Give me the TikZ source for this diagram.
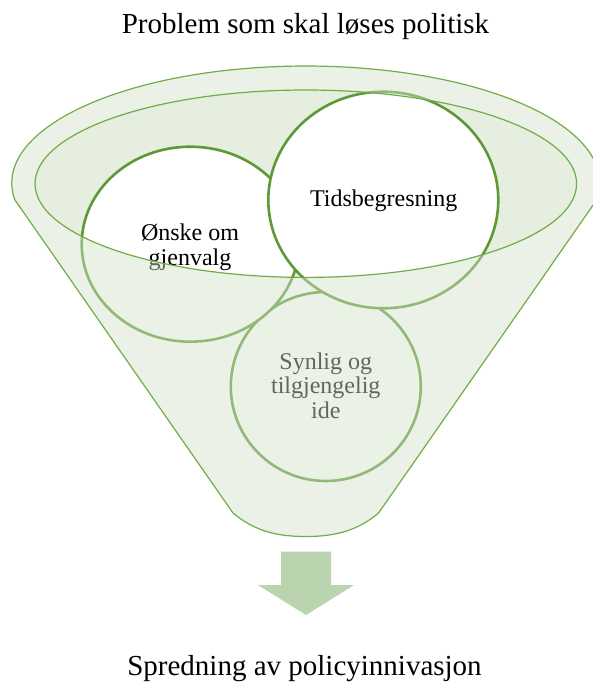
\documentclass[tikz,border=0pt]{standalone}
\usepackage{fontspec}
\setmainfont{Liberation Serif}
\usetikzlibrary{shapes.geometric}
\definecolor{ovl}{RGB}{211,225,200}
\definecolor{innerfill}{RGB}{229,238,223}
\definecolor{funline}{RGB}{112,173,71}
\definecolor{circ}{RGB}{94,152,56}
\definecolor{arrowc}{RGB}{185,212,175}
\def\funnelpath{(14.9,199.9) arc[start angle=188.3, end angle=-8.3, x radius=294pt, y radius=117pt] -- (378.6,513) .. controls (355,533) and (330,536.5) .. (305.8,536.5) .. controls (281.6,536.5) and (256.6,533) .. (233,513) -- cycle}
\begin{document}
\begin{tikzpicture}[x=1pt,y=-1pt,
  ell/.style={ellipse, draw=circ, fill=white, line width=2.6pt, inner sep=0pt},
  ctext/.style={align=center, font=\fontsize{24}{24.5}\selectfont, text=black, inner sep=0pt},
  ttext/.style={font=\fontsize{29}{32}\selectfont, inner sep=0pt, anchor=base},
  funnel/.style={draw=funline, line width=1.2pt}]
\useasboundingbox (0,0) rectangle (593,682);
% inner opening
\fill[innerfill] (305.8,183.7) ellipse [x radius=270.8pt, y radius=93.7pt];
% circles
\node[ell, minimum width=190pt, minimum height=189pt] (syn) at (325.8,386.5) {};
\node[ell, minimum width=217.2pt, minimum height=195pt] (onske) at (190.3,244.2) {};
\node[ell, minimum width=230pt, minimum height=216.6pt] (tids) at (383.3,200) {};
\node[ctext] (tonske) at (190,247.3) {Ønske om\\gjenvalg};
\node[ctext] (ttids) at (383.7,200.4) {Tidsbegresning};
\node[ctext] (tsyn) at (325.8,385.3) {Synlig og\\tilgjengelig\\ide};
% funnel overlay
\path[fill=ovl, fill opacity=0.46, even odd rule] \funnelpath (305.8,183.7) ellipse [x radius=270.8pt, y radius=93.7pt];
\draw[funnel, line join=round] \funnelpath;
\draw[funnel] (305.8,183.7) ellipse [x radius=270.8pt, y radius=93.7pt];
% arrow
\fill[arrowc] (281,551.7) -- (331,551.7) -- (331,585) -- (354,585) -- (306,615) -- (258,585) -- (281,585) -- cycle;
% titles
\node[ttext] (top) at (305.5,33.3) {Problem som skal løses politisk};
\node[ttext] (bottom) at (304.5,675) {Spredning av policyinnivasjon};
\end{tikzpicture}
\end{document}
